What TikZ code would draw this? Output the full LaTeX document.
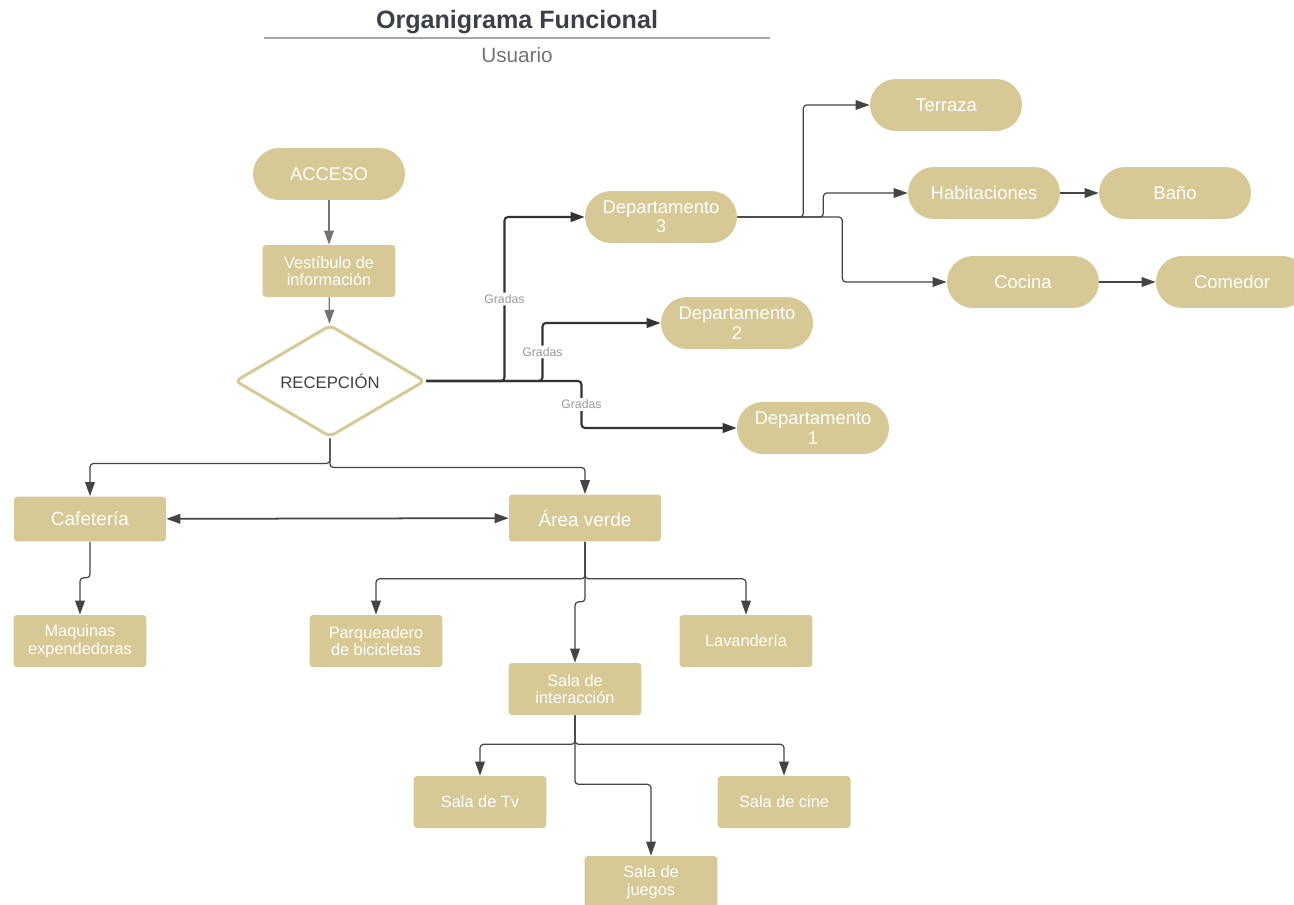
\documentclass[tikz,border=0pt]{standalone}
\usepackage{fontspec}
\setmainfont{Liberation Sans}
\usetikzlibrary{shapes.geometric, arrows.meta, positioning, calc}
\definecolor{arena}{HTML}{D6C995}
\definecolor{tinta}{HTML}{3B4048}
\definecolor{linea}{HTML}{444444}

\begin{document}
\begin{tikzpicture}[
    x=0.02cm, y=-0.02cm,
    pill/.style={fill=arena, rounded corners=0.52cm, minimum width=3.04cm, minimum height=1.04cm, align=center, text=white, font=\fontsize{10.5}{11}\selectfont},
    caja/.style={fill=arena, rounded corners=2pt, minimum width=2.66cm, minimum height=1.04cm, align=center, text=white, font=\fontsize{9.3}{10}\selectfont},
    flecha/.style={-{Triangle[length=8pt,width=5.5pt]}, line width=0.7pt, draw=linea, rounded corners=2pt},
    fuerte/.style={flecha, line width=1.2pt, draw=black!80},
    gradas/.style={fill=white, inner sep=1pt, text=black!40, font=\fontsize{7}{8}\selectfont},
]
    \useasboundingbox (0,0) rectangle (1294,905);

    % Titulo
    \node[font=\fontsize{14.3}{16}\selectfont\bfseries, text=tinta] (titulo) at (517,22) {Organigrama Funcional};
    \draw[black!35, line width=0.8pt] (264,38) -- (770,38);
    \node[font=\fontsize{11.8}{13}\selectfont, text=black!55] (usuario) at (517,55) {Usuario};

    % Entrada
    \node[pill] (acceso) at (329,174) {ACCESO};
    \node[caja] (vestibulo) at (329,271) {Vestíbulo de\\información};
    \node[diamond, draw=arena, line width=1.7pt, fill=white, rounded corners=3pt, aspect=1.7, minimum width=3.8cm, minimum height=2.24cm, text=black!75, font=\fontsize{9.5}{10}\selectfont] (recepcion) at (330,381) {RECEPCIÓN};

    % Departamentos
    \node[pill] (dep3) at (661,217) {Departamento\\3};
    \node[pill] (dep2) at (737,323) {Departamento\\2};
    \node[pill] (dep1) at (813,428) {Departamento\\1};
    \node[pill] (terraza) at (946,105) {Terraza};
    \node[pill] (habit) at (984,193) {Habitaciones};
    \node[pill] (bano) at (1175,193) {Baño};
    \node[pill] (cocina) at (1023,282) {Cocina};
    \node[pill] (comedor) at (1232,282) {Comedor};

    % Planta baja
    \node[caja, minimum width=3.04cm, minimum height=0.9cm, font=\fontsize{10.8}{11}\selectfont] (cafe) at (90,519) {Cafetería};
    \node[caja, minimum width=3.04cm, minimum height=0.94cm, font=\fontsize{10.8}{11}\selectfont] (area) at (585,518) {Área verde};
    \node[caja] (maquinas) at (80,641) {Maquinas\\expendedoras};
    \node[caja] (parq) at (376,641) {Parqueadero\\de bicicletas};
    \node[caja] (lavand) at (746,641) {Lavandería};
    \node[caja] (salaint) at (575,689) {Sala de\\interacción};
    \node[caja] (salatv) at (480,802) {Sala de Tv};
    \node[caja] (salacine) at (784,802) {Sala de cine};
    \node[caja] (salajuegos) at (651,882) {Sala de\\juegos};

    % Conexiones
    \draw[flecha, draw=black!55] (acceso) -- (vestibulo);
    \draw[flecha, draw=black!55] (vestibulo) -- (recepcion);

    \draw[fuerte] (recepcion.east) -- ++(78,0) |- node[gradas, pos=0.25] {Gradas} (dep3.west);
    \draw[fuerte] (recepcion.east) -- ++(116,0) |- node[gradas, pos=0.25] {Gradas} (dep2.west);
    \draw[fuerte] (recepcion.east) -- ++(155,0) |- node[gradas, pos=0.25] {Gradas} (dep1.west);

    \draw[flecha] (dep3.east) -- ++(66,0) |- (terraza.west);
    \draw[flecha] (dep3.east) -- ++(86,0) |- (habit.west);
    \draw[flecha] (dep3.east) -- ++(105,0) |- (cocina.west);
    \draw[flecha] (habit) -- (bano);
    \draw[flecha] (cocina) -- (comedor);

    \draw[flecha] (recepcion.south) -- ++(0,25) -| (cafe.north);
    \draw[flecha] (recepcion.south) -- ++(0,29) -| (area.north);
    \draw[flecha, {Triangle[length=8pt,width=5.5pt]}-{Triangle[length=8pt,width=5.5pt]}, line width=1pt] (cafe) -- (area);

    \draw[flecha] (cafe.south) -- ++(0,36) -| (maquinas.north);
    \draw[flecha] (area.south) -- ++(0,37) -| (parq.north);
    \draw[flecha] (area.south) -- ++(0,37) -| (lavand.north);
    \draw[flecha] (area.south) -- ++(0,60) -| (salaint.north);

    \draw[flecha] (salaint.south) -- ++(0,29) -| (salatv.north);
    \draw[flecha] (salaint.south) -- ++(0,29) -| (salacine.north);
    \draw[flecha] (salaint.south) -- ++(0,69) -| (salajuegos.north);
\end{tikzpicture}
\end{document}
